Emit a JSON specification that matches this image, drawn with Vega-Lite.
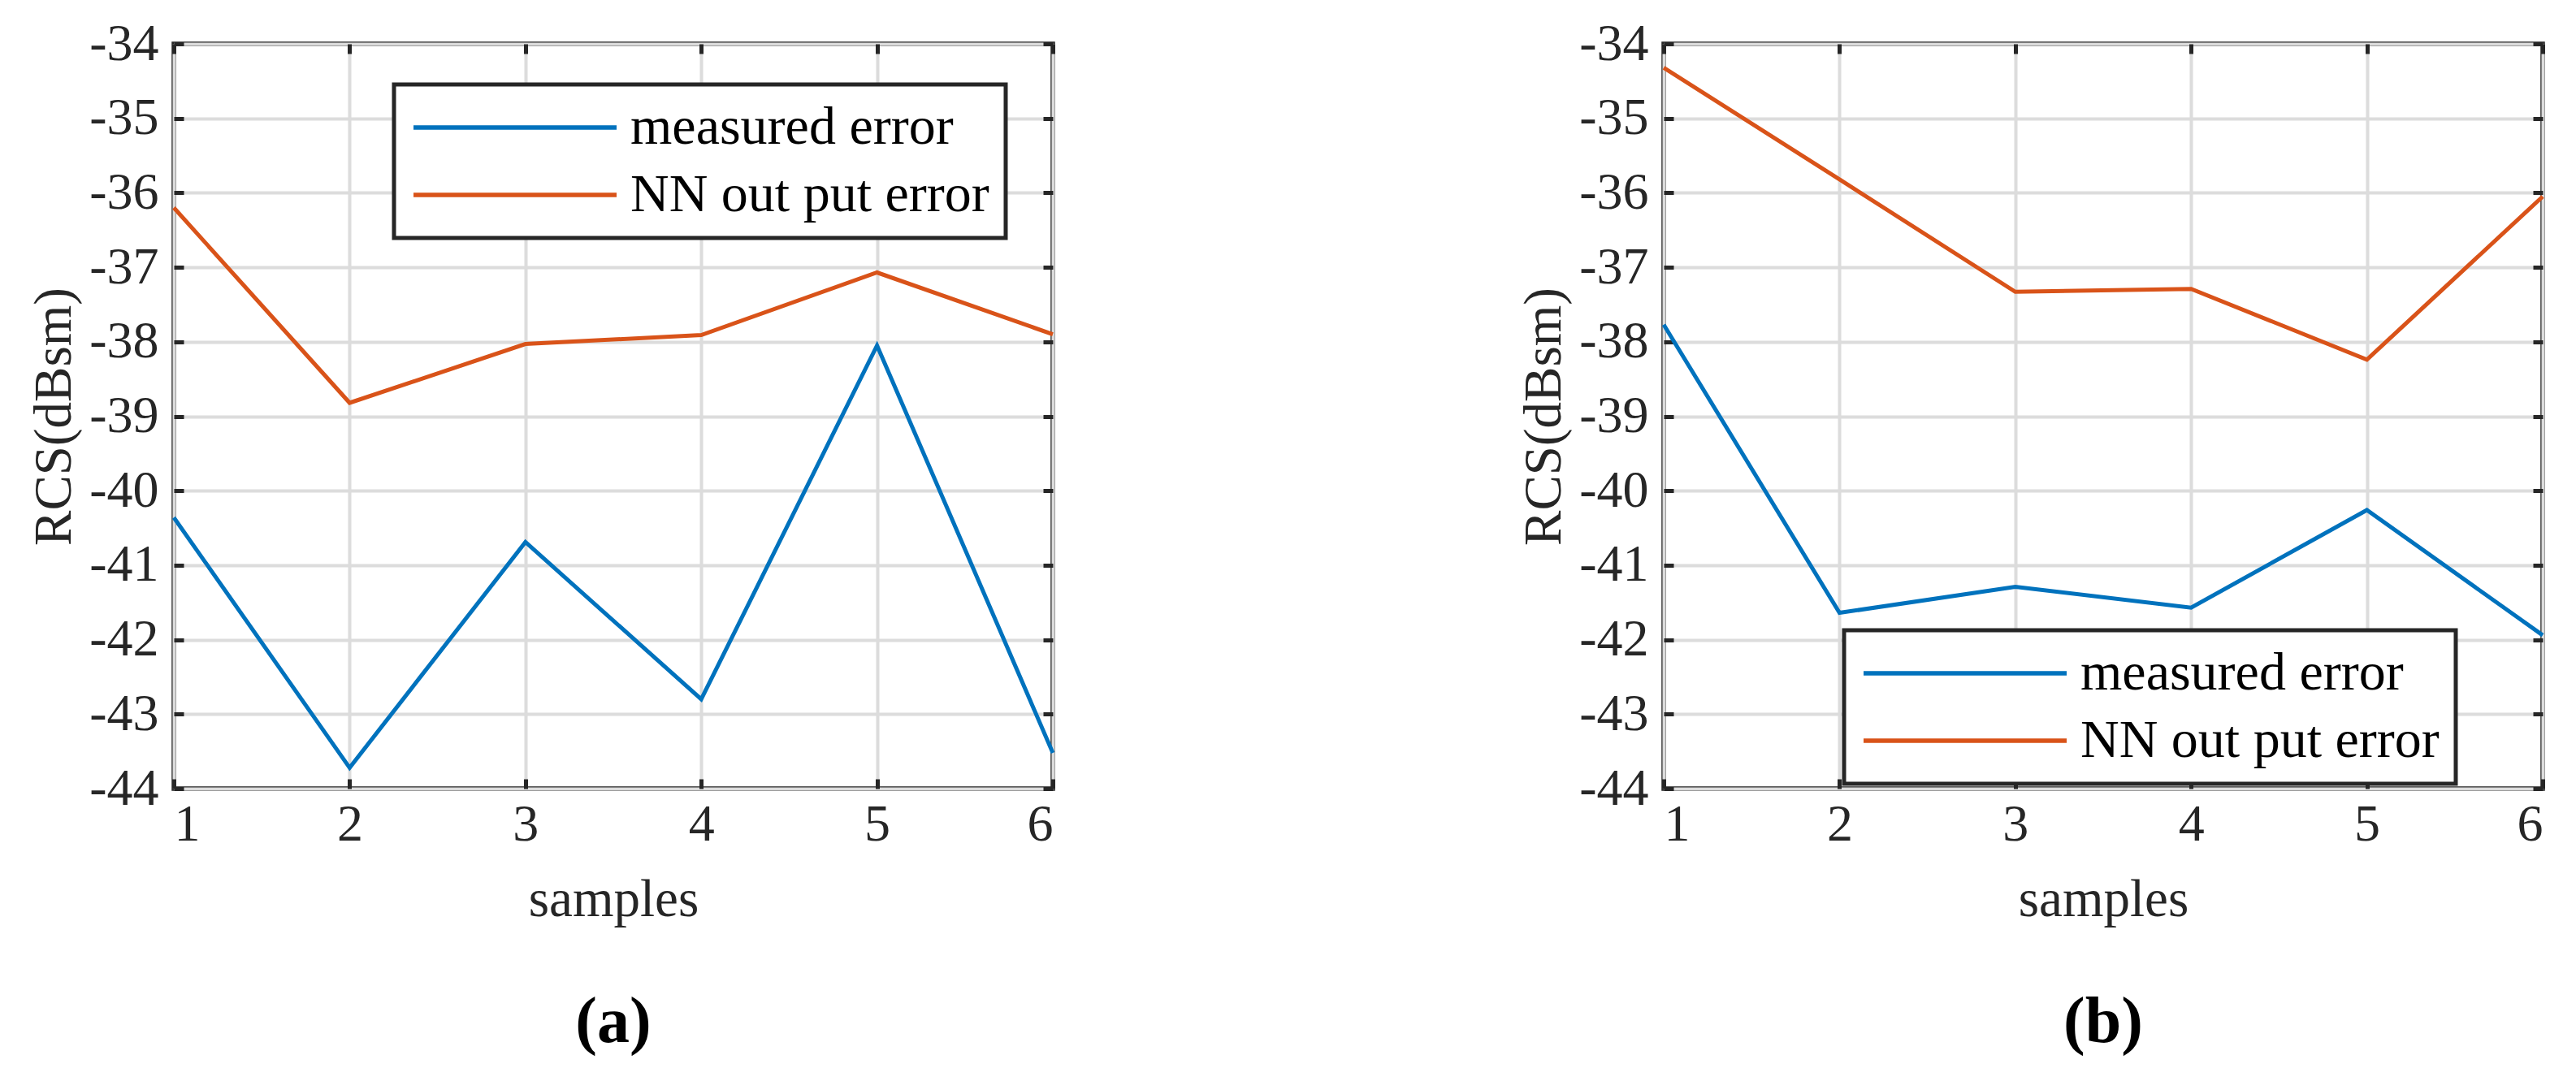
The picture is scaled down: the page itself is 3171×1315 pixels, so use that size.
{
  "$schema": "https://vega.github.io/schema/vega-lite/v6.json",
  "background": "white",
  "padding": {"left": 31, "top": 19, "right": 10, "bottom": 5},
  "spacing": 556,
  "config": {
    "font": "Liberation Serif",
    "view": {"stroke": "#262626", "strokeWidth": 5.5},
    "axis": {
      "domain": false,
      "grid": true,
      "gridColor": "#dcdcdc",
      "gridWidth": 4,
      "gridOpacity": 1,
      "tickColor": "#262626",
      "tickSize": -12,
      "tickWidth": 5,
      "labelFont": "Liberation Serif",
      "labelFontSize": 64,
      "labelColor": "#262626",
      "titleFont": "Liberation Serif",
      "titleFontSize": 65,
      "titleFontWeight": "normal",
      "titleColor": "#262626"
    },
    "legend": {
      "title": null,
      "orient": "none",
      "symbolType": "M-5,0H5",
      "symbolSize": 2500,
      "symbolStrokeWidth": 5.5,
      "symbolFillColor": "transparent",
      "symbolOffset": 96,
      "labelOffset": 109,
      "labelFont": "Liberation Serif",
      "labelFontSize": 66,
      "labelColor": "black",
      "labelLimit": 1000,
      "strokeColor": "#262626",
      "strokeWidth": 5,
      "fillColor": "white",
      "padding": 20,
      "rowPadding": 17
    },
    "title": {"font": "Liberation Serif", "fontSize": 80, "fontWeight": "bold", "color": "black", "orient": "bottom", "offset": 80}
  },
  "resolve": {"scale": {"color": "independent"}, "legend": {"color": "independent"}},
  "hconcat": [
    {
      "width": 1082,
      "height": 917,
      "title": {"text": "(a)", "orient": "bottom"},
      "data": {"values": [
        {"sample": 1, "series": "measured error", "value": -40.36},
        {"sample": 2, "series": "measured error", "value": -43.72},
        {"sample": 3, "series": "measured error", "value": -40.69},
        {"sample": 4, "series": "measured error", "value": -42.8},
        {"sample": 5, "series": "measured error", "value": -38.05},
        {"sample": 6, "series": "measured error", "value": -43.52},
        {"sample": 1, "series": "NN out put error", "value": -36.2},
        {"sample": 2, "series": "NN out put error", "value": -38.82},
        {"sample": 3, "series": "NN out put error", "value": -38.03},
        {"sample": 4, "series": "NN out put error", "value": -37.91},
        {"sample": 5, "series": "NN out put error", "value": -37.07},
        {"sample": 6, "series": "NN out put error", "value": -37.9}
      ]},
      "resolve": {"axis": {"x": "independent", "y": "independent"}},
      "layer": [
        {
          "mark": {"type": "line", "strokeWidth": 5},
          "encoding": {
            "x": {"field": "sample", "type": "quantitative", "scale": {"domain": [1, 6], "nice": false, "zero": false},
                  "axis": {"orient": "bottom", "values": [1, 2, 3, 4, 5, 6], "title": "samples", "labelPadding": 24, "titlePadding": 29}},
            "y": {"field": "value", "type": "quantitative", "scale": {"domain": [-44, -34], "nice": false, "zero": false},
                  "axis": {"orient": "left", "values": [-44, -43, -42, -41, -40, -39, -38, -37, -36, -35, -34], "labelExpr": "'' + datum.value", "title": "RCS(dBsm)", "labelPadding": 31, "titlePadding": 9}},
            "color": {"field": "series", "type": "nominal",
                      "scale": {"domain": ["measured error", "NN out put error"], "range": ["#0072BD", "#D95319"]},
                      "legend": {"legendX": 271, "legendY": 50}}
          }
        },
        {
          "mark": {"type": "point", "opacity": 0},
          "encoding": {
            "x": {"field": "sample", "type": "quantitative", "scale": {"domain": [1, 6], "nice": false, "zero": false},
                  "axis": {"orient": "top", "values": [1, 2, 3, 4, 5, 6], "labels": false, "title": null, "grid": false}},
            "y": {"field": "value", "type": "quantitative", "scale": {"domain": [-44, -34], "nice": false, "zero": false},
                  "axis": {"orient": "right", "values": [-44, -43, -42, -41, -40, -39, -38, -37, -36, -35, -34], "labels": false, "title": null, "grid": false}}
          }
        }
      ]
    },
    {
      "width": 1082,
      "height": 917,
      "title": {"text": "(b)", "orient": "bottom"},
      "data": {"values": [
        {"sample": 1, "series": "measured error", "value": -37.77},
        {"sample": 2, "series": "measured error", "value": -41.64},
        {"sample": 3, "series": "measured error", "value": -41.29},
        {"sample": 4, "series": "measured error", "value": -41.57},
        {"sample": 5, "series": "measured error", "value": -40.26},
        {"sample": 6, "series": "measured error", "value": -41.94},
        {"sample": 1, "series": "NN out put error", "value": -34.32},
        {"sample": 2, "series": "NN out put error", "value": -35.82},
        {"sample": 3, "series": "NN out put error", "value": -37.33},
        {"sample": 4, "series": "NN out put error", "value": -37.29},
        {"sample": 5, "series": "NN out put error", "value": -38.24},
        {"sample": 6, "series": "NN out put error", "value": -36.05}
      ]},
      "resolve": {"axis": {"x": "independent", "y": "independent"}},
      "layer": [
        {
          "mark": {"type": "line", "strokeWidth": 5},
          "encoding": {
            "x": {"field": "sample", "type": "quantitative", "scale": {"domain": [1, 6], "nice": false, "zero": false},
                  "axis": {"orient": "bottom", "values": [1, 2, 3, 4, 5, 6], "title": "samples", "labelPadding": 24, "titlePadding": 29}},
            "y": {"field": "value", "type": "quantitative", "scale": {"domain": [-44, -34], "nice": false, "zero": false},
                  "axis": {"orient": "left", "values": [-44, -43, -42, -41, -40, -39, -38, -37, -36, -35, -34], "labelExpr": "'' + datum.value", "title": "RCS(dBsm)", "labelPadding": 31, "titlePadding": 9}},
            "color": {"field": "series", "type": "nominal",
                      "scale": {"domain": ["measured error", "NN out put error"], "range": ["#0072BD", "#D95319"]},
                      "legend": {"legendX": 222, "legendY": 722}}
          }
        },
        {
          "mark": {"type": "point", "opacity": 0},
          "encoding": {
            "x": {"field": "sample", "type": "quantitative", "scale": {"domain": [1, 6], "nice": false, "zero": false},
                  "axis": {"orient": "top", "values": [1, 2, 3, 4, 5, 6], "labels": false, "title": null, "grid": false}},
            "y": {"field": "value", "type": "quantitative", "scale": {"domain": [-44, -34], "nice": false, "zero": false},
                  "axis": {"orient": "right", "values": [-44, -43, -42, -41, -40, -39, -38, -37, -36, -35, -34], "labels": false, "title": null, "grid": false}}
          }
        }
      ]
    }
  ]
}
